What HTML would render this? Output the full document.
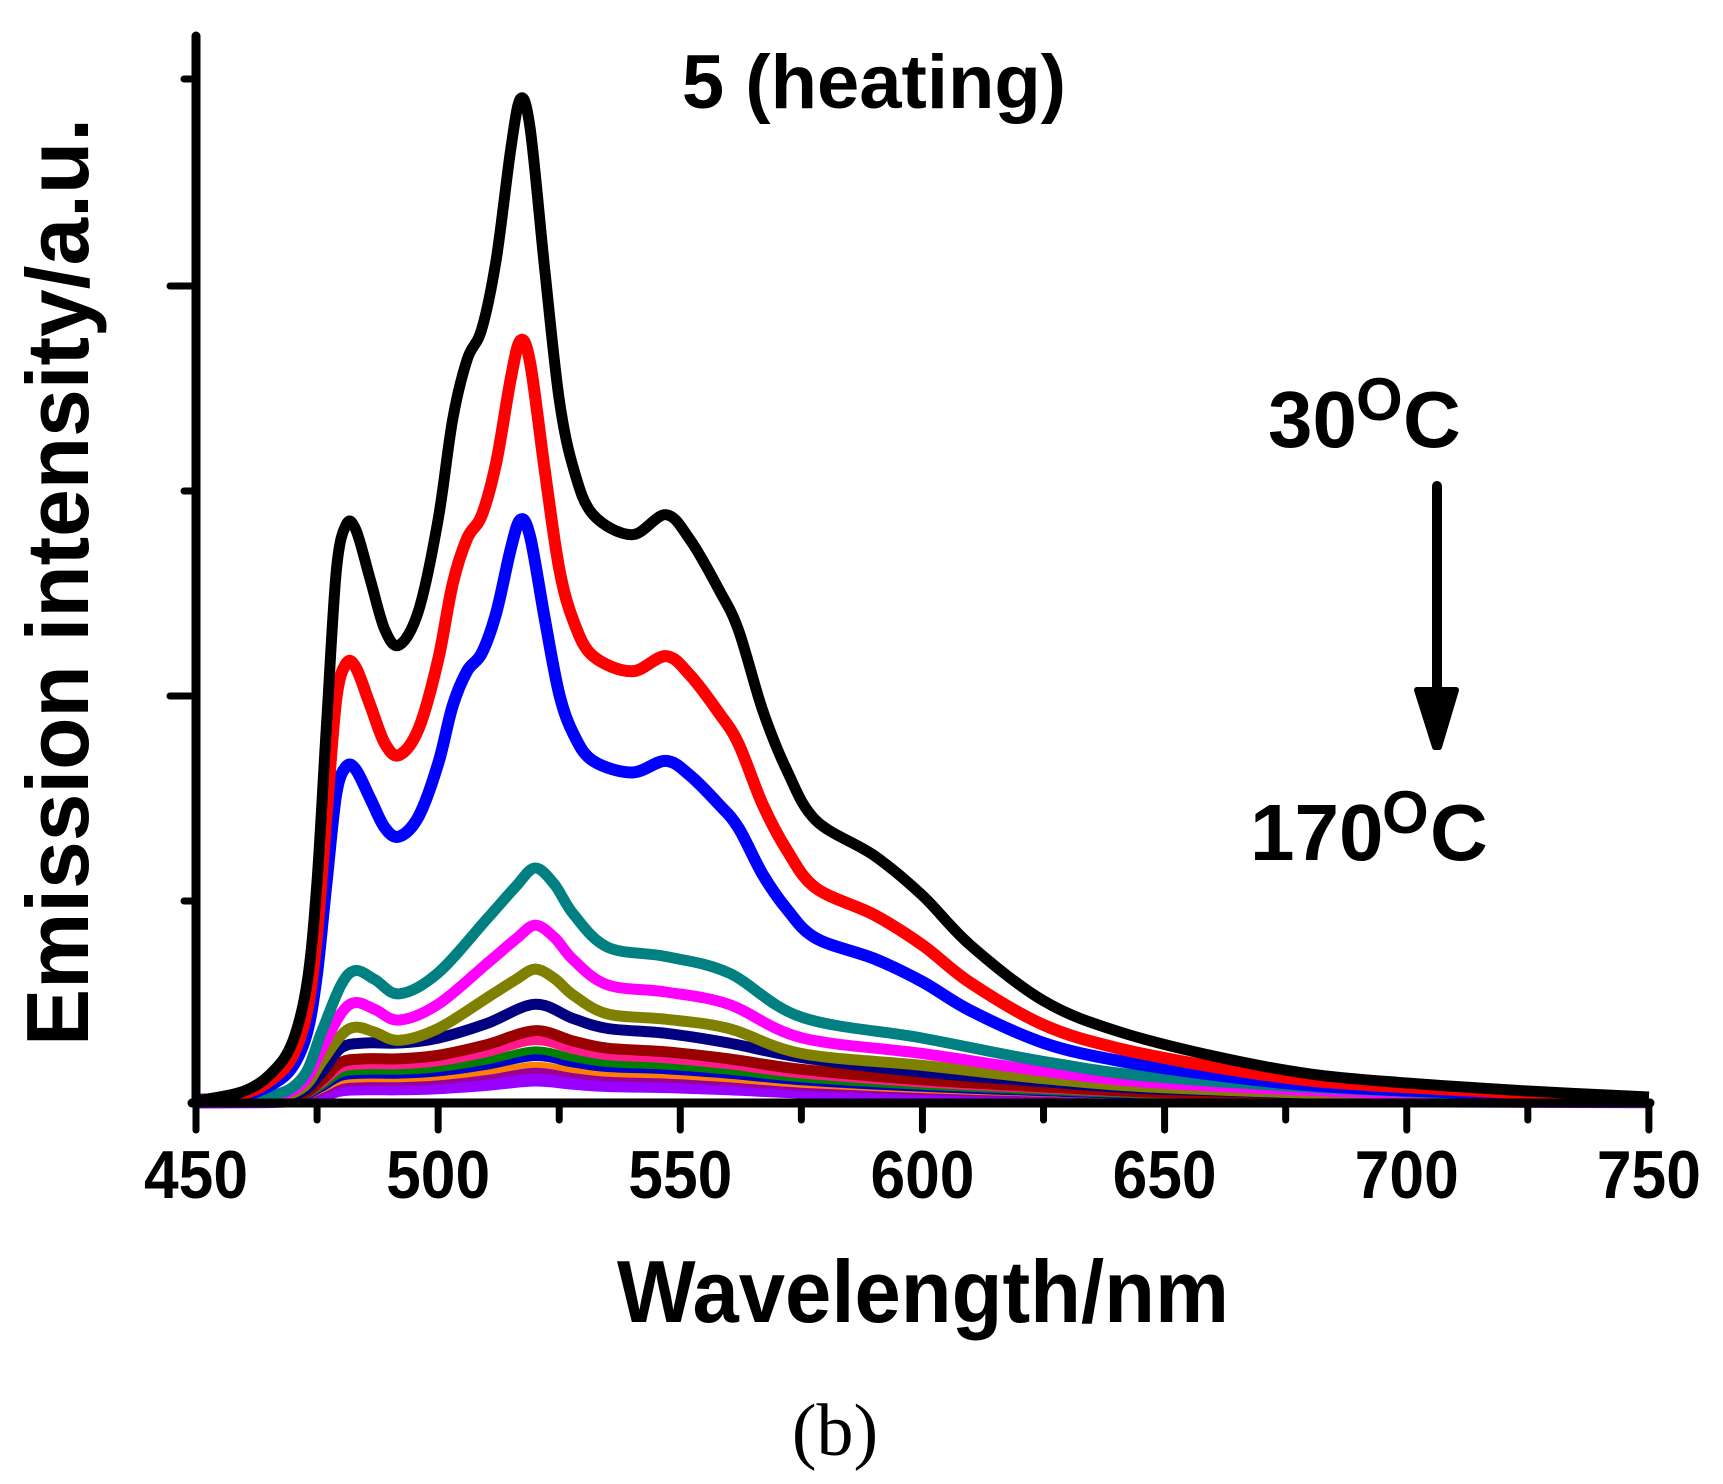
<!DOCTYPE html>
<html><head><meta charset="utf-8"><style>
html,body{margin:0;padding:0;background:#fff;}
svg{display:block;}
text{font-family:"Liberation Sans",Arial,sans-serif;font-weight:bold;fill:#000;}
</style></head><body>
<svg id="s" width="1723" height="1484" viewBox="0 0 1723 1484" xmlns="http://www.w3.org/2000/svg">
<g id="curves"></g>
<line x1="196" y1="36" x2="196" y2="1104" stroke="#000" stroke-width="9" stroke-linecap="round"/>
<line x1="192" y1="1103" x2="1650" y2="1103" stroke="#000" stroke-width="9" stroke-linecap="round"/>
<g stroke="#000" stroke-width="7" stroke-linecap="round">
<line x1="184" y1="79" x2="196" y2="79"/>
<line x1="170" y1="286" x2="196" y2="286"/>
<line x1="184" y1="491" x2="196" y2="491"/>
<line x1="170" y1="696" x2="196" y2="696"/>
<line x1="184" y1="901" x2="196" y2="901"/>
</g>
<g id="xt" stroke="#000" stroke-width="7" stroke-linecap="round"></g>
<g font-size="68" text-anchor="middle" id="xl"></g>
<text x="923" y="1322" font-size="88" text-anchor="middle" textLength="612" lengthAdjust="spacingAndGlyphs">Wavelength/nm</text>
<text transform="translate(88,582) rotate(-90)" font-size="88" text-anchor="middle" textLength="928" lengthAdjust="spacingAndGlyphs">Emission intensity/a.u.</text>
<text x="835" y="1455" font-size="74" text-anchor="middle" style="font-family:'Liberation Serif',serif;font-weight:normal">(b)</text>
<text x="874" y="108" font-size="76" text-anchor="middle">5 (heating)</text>
<text x="1268" y="447" font-size="80">30</text>
<text x="1356" y="420" font-size="60">O</text>
<text x="1403" y="447" font-size="80">C</text>
<text x="1250" y="860" font-size="80">170</text>
<text x="1382" y="833" font-size="60">O</text>
<text x="1430" y="860" font-size="80">C</text>
<line x1="1437" y1="486" x2="1437" y2="700" stroke="#000" stroke-width="10" stroke-linecap="round"/>
<polygon points="1417,690 1456,690 1439,747 1435,747" fill="#000" stroke="#000" stroke-width="6" stroke-linejoin="round"/>
</svg>
<script>
var NS="http://www.w3.org/2000/svg";
function X(w){return 196+(w-450)*4.843;}
var xt=document.getElementById('xt'),xl=document.getElementById('xl');
for(var w=450;w<=750;w+=25){var l=document.createElementNS(NS,'line');l.setAttribute('x1',X(w));l.setAttribute('x2',X(w));l.setAttribute('y1',1103);l.setAttribute('y2',w%50==0?1130:1120);xt.appendChild(l);
if(w%50==0){var t=document.createElementNS(NS,'text');t.setAttribute('x',X(w));t.setAttribute('y',1198);t.setAttribute('textLength',104);t.setAttribute('lengthAdjust','spacingAndGlyphs');t.textContent=w;xl.appendChild(t);}}
var B=[[450,0],[460,.01],[466,.03],[470,.06],[473,.12],[475,.22],[477,.38],[479,.53],[481,.575],[483,.57],[486,.52],[489,.47],[492,.455],[496,.49],[500,.58],[503,.68],[506,.74],[509,.77],[512,.84],[515,.95],[517,1],[519,.97],[522,.83],[525,.7],[528,.63],[532,.585],[540,.565],[547,.585],[552,.56],[558,.51],[562,.47],[567,.39],[572,.33],[578,.28],[590,.245],[600,.205],[610,.155],[625,.1],[640,.07],[660,.045],[680,.027],[700,.018],[725,.01],[750,.004]];
var L=[[450,0],[465,.02],[472,.1],[476,.3],[480,.5],[483,.56],[487,.52],[492,.46],[500,.55],[510,.78],[516,.92],[520,1],[524,.93],[528,.8],[535,.66],[547,.62],[560,.55],[575,.36],[600,.27],[625,.17],[650,.1],[700,.04],[750,.01]];
var L2=[[450,0],[465,.02],[472,.1],[476,.3],[480,.55],[485,.6],[492,.6],[500,.65],[510,.8],[520,1],[528,.85],[535,.75],[547,.7],[560,.6],[575,.45],[600,.3],[625,.2],[650,.12],[700,.05],[750,.01]];
function path(sh,h){var P=sh.map(function(p){return [X(p[0]),1101-p[1]*h*1.099];});
var d='M'+P[0][0].toFixed(1)+','+P[0][1].toFixed(1);
for(var i=0;i<P.length-1;i++){var p0=P[Math.max(0,i-1)],p1=P[i],p2=P[i+1],p3=P[Math.min(P.length-1,i+2)];
var c1=[p1[0]+(p2[0]-p0[0])/6,p1[1]+(p2[1]-p0[1])/6],c2=[p2[0]-(p3[0]-p1[0])/6,p2[1]-(p3[1]-p1[1])/6];
d+='C'+c1[0].toFixed(1)+','+c1[1].toFixed(1)+' '+c2[0].toFixed(1)+','+c2[1].toFixed(1)+' '+p2[0].toFixed(1)+','+p2[1].toFixed(1);}
return d;}
var g=document.getElementById('curves');
var cs=[[L2,20,'#9900ff',15],[L2,28,'#990099',7],[L2,33,'#ff8000',6],[L2,40,'#0000cc',8],[L2,46,'#008000',8],[L2,55,'#ff1a8c',9],[L2,64,'#990000',11],[L2,88,'#000080',11],[L,120,'#808000',11],[L,160,'#ff00ff',11],[L,212,'#008080',11],[B,529,'#0000ff',12],[B,692,'#ff0000',12],[B,912,'#000000',11]];
cs.forEach(function(c){var p=document.createElementNS(NS,'path');p.setAttribute('d',path(c[0],c[1]));p.setAttribute('fill','none');p.setAttribute('stroke',c[2]);p.setAttribute('stroke-width',c[3]);p.setAttribute('stroke-linejoin','round');g.appendChild(p);});
</script>
</body></html>
